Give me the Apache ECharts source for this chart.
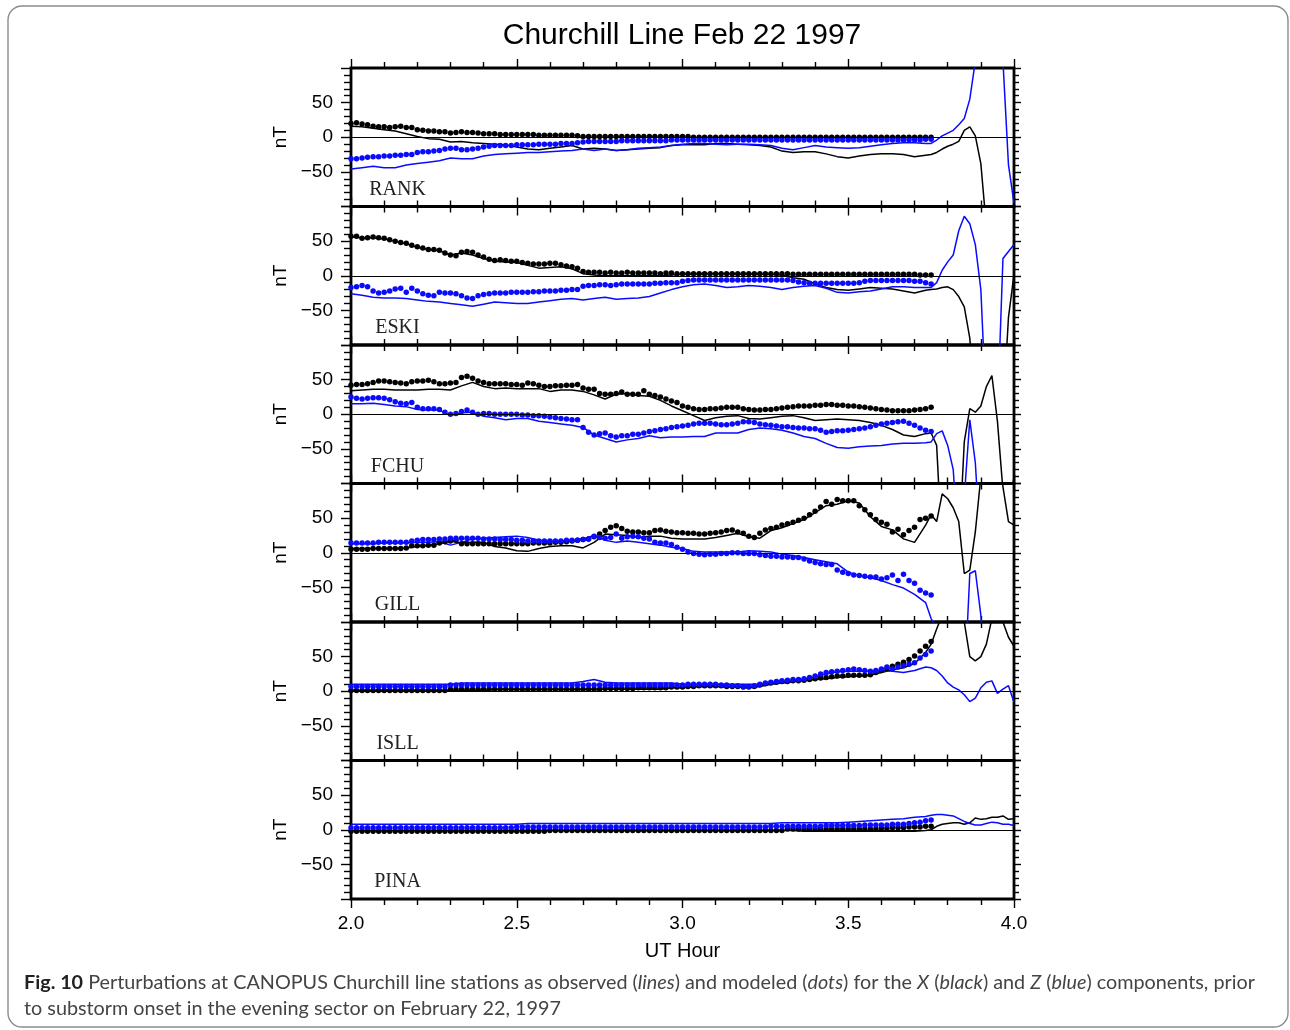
<!DOCTYPE html>
<html><head><meta charset="utf-8">
<script src="https://cdn.jsdelivr.net/npm/echarts@6/dist/echarts.min.js"></script>
<style>html,body{margin:0;padding:0;background:#fff}#chart{width:1290px;height:1030px}</style>
</head><body><div id="chart"></div>
<script>
// ---------------- data ----------------
const stations = ['RANK', 'ESKI', 'FCHU', 'GILL', 'ISLL', 'PINA'];
const xTickLabels = ['2.0', '2.5', '3.0', '3.5', '4.0'];
const yTickValues = [-50, 0, 50];
const yTickTexts = ['\u221250', '0', '50'];

// time grids (UT hours): model dots every minute 2.00-3.75; observed lines every 2 min to 3.733, then every minute to 4.00
const dotTimes = Array.from({length: 106}, (_, i) => 2 + i / 60);
const lineTimes = Array.from({length: 53}, (_, j) => 2 + (2 * j) / 60)
  .concat(Array.from({length: 16}, (_, k) => 2 + (105 + k) / 60));

// observed (lines)
const rankXObs = [16,15,13,11,9,5,1,-2,-3,-7,-6,-8,-9,-10,-11,-14,-17,-18,-16,-14,-12,-17,-16,-17,-19,-18,-17,-16,-15,-12,-11,-11,-11,-9,-9,-10,-11,-12,-14,-20,-22,-21,-21,-24,-28,-30,-27,-25,-24,-24,-25,-28,-26,
  -25,-22,-17,-13,-10,-6,10,15,2,-38,-130,-200,-200,-200,-200,-200];
const rankZObs = [-46,-44,-42,-44,-44,-40,-38,-36,-34,-30,-31,-31,-27,-25,-24,-23,-22,-22,-21,-20,-19,-17,-19,-17,-19,-18,-16,-15,-14,-12,-10,-9,-9,-10,-11,-10,-10,-11,-12,-16,-18,-15,-12,-14,-15,-16,-15,-13,-11,-9,-8,-8,-9,
  -9,-4,2,6,10,18,27,55,110,200,200,200,200,110,-40,-95];
const eskiXObs = [56,55,55,53,50,46,41,38,36,30,33,30,25,21,20,19,15,11,12,13,10,3,1,0,0,0,0,0,0,1,2,2,3,3,3,2,2,2,2,1,-3,-5,-12,-17,-20,-21,-19,-17,-18,-19,-22,-25,-21,
  -20,-19,-17,-16,-20,-30,-45,-90,-200,-200,-200,-200,-200,-200,-60,2];
const eskiZObs = [-26,-28,-31,-32,-32,-33,-35,-37,-38,-40,-42,-44,-41,-38,-39,-40,-40,-38,-36,-34,-33,-35,-33,-31,-34,-33,-32,-30,-25,-20,-16,-13,-12,-14,-17,-16,-14,-15,-17,-20,-17,-15,-14,-18,-24,-25,-23,-22,-19,-16,-16,-17,-17,
  -17,-10,8,20,30,65,86,75,45,-20,-200,-200,-200,25,35,45];
const fchuXObs = [34,35,36,36,35,35,35,36,36,35,41,46,40,37,38,37,37,37,33,35,35,33,28,22,29,30,27,26,20,12,5,-2,-9,-5,-3,-2,-6,-7,-5,-3,-2,-5,-9,-8,-7,-8,-9,-12,-16,-22,-30,-32,-28,
  -27,-45,-200,-200,-200,-200,-40,8,3,12,40,56,-10,-110,-150,-90];
const fchuZObs = [15,15,16,14,12,11,7,6,6,-2,2,3,-3,-5,-8,-6,-6,-10,-12,-14,-16,-19,-30,-35,-40,-37,-35,-31,-34,-33,-33,-32,-32,-27,-27,-27,-22,-20,-21,-23,-27,-32,-35,-42,-48,-49,-47,-46,-45,-43,-42,-42,-41,
  -40,-28,-24,-45,-80,-200,-120,-8,-70,-200,-200,-200,-200,-200,-200,-200];
const gillXObs = [6,6,6,6,6,7,9,11,13,17,14,15,15,9,7,3,2,6,9,10,10,7,15,27,26,25,22,24,24,21,20,20,20,22,25,28,23,21,32,36,42,48,58,68,70,75,72,52,38,33,20,15,40,
  55,45,85,78,65,45,-30,-25,30,110,200,200,200,95,45,40];
const gillZObs = [13,13,13,14,14,14,15,15,16,11,15,20,21,22,23,24,22,18,17,17,17,20,25,18,15,17,15,13,11,8,6,2,1,1,1,1,3,2,1,-2,-4,-7,-10,-13,-16,-28,-33,-36,-40,-46,-51,-60,-72,
  -95,-110,-200,-200,-200,-200,-200,-30,-26,-90,-200,-200,-200,-200,-200,-200];
const isllXObs = [1,1,1,1,1,1,1,1,1,1,1,1,1,3,3,3,3,3,3,3,3,3,3,3,3,3,3,3,3,5,5,6,7,7,6,6,5,7,10,12,14,15,17,18,20,21,22,23,27,31,34,40,56,
  68,90,110,200,200,200,100,50,44,50,68,105,200,100,78,65];
const isllZObs = [10,10,10,10,10,10,10,10,10,10,12,12,12,12,12,12,12,12,12,12,12,14,17,13,12,12,12,12,12,12,10,10,10,10,10,10,10,10,11,12,14,17,21,25,28,29,29,29,30,29,27,30,35,
  34,30,22,12,6,2,-5,-15,-10,5,13,15,-3,3,8,-16];
const pinaXObs = [-1,-1,-1,-1,-1,-1,-1,-1,-1,-1,-1,-1,-1,-1,-1,-1,-1,-1,-1,-1,-1,-1,-1,-1,-1,-1,-1,-1,-1,-1,-1,-1,-1,-1,-1,-1,-1,-1,-1,-1,-1,-2,-2,-2,-2,-2,-2,-2,-2,-2,-2,-2,-1,
  0,5,8,9,10,10,8,10,17,15,16,18,18,20,15,16];
const pinaZObs = [8,8,8,8,8,8,8,8,8,8,8,8,8,8,8,8,9,9,9,9,9,9,9,9,9,9,9,9,9,9,9,9,9,9,9,9,9,9,9,10,10,10,10,10,10,11,12,13,14,15,16,18,19,
  21,22,22,21,20,16,12,9,7,7,9,11,10,8,8,6];

// modeled (dots)
const rankXMod = [20,21,19,18,16,15,15,14,15,16, 14,14,11,10,9,9,8,8,6,7, 8,7,7,6,5,5,5,4,4,4, 4,4,4,4,3,3,3,3,3,3,
  3,2,1,1,1,1,1,1,1,1, 1,1,1,1,1,1,1,1,1,1, 1,1,0,0,0,0,0,0,0,0, 0,0,0,0,0,0,0,0,0,0, 0,0,0,0,0,0,0,0,0,0, 0,0,0,0,0,0,0,0,0,0, 0,0,0,0,0,0];
const rankZMod = [-31,-31,-30,-29,-28,-28,-27,-27,-26,-26, -25,-25,-22,-21,-21,-20,-19,-17,-16,-16, -18,-18,-17,-16,-14,-13,-12,-12,-12,-12,
  -11,-11,-11,-11,-10,-10,-10,-10,-9,-9, -9,-8,-7,-6,-6,-6,-6,-6,-6,-5, -5,-5,-5,-5,-5,-5,-5,-5,-4,-4, -4,-4,-4,-4,-4,-4,-4,-4,-4,-4,
  -4,-4,-4,-4,-4,-4,-4,-4,-4,-4, -4,-4,-4,-4,-4,-4,-4,-4,-4,-4, -4,-4,-4,-4,-4,-4,-4,-4,-4,-4, -4,-4,-4,-4,-3,-3];
const eskiXMod = [57,57,54,55,56,55,54,52,50,48, 47,44,42,40,38,38,37,33,30,29, 34,35,34,30,27,24,22,23,22,21, 21,19,18,17,17,17,18,18,16,14,
  13,11,6,5,5,5,4,5,4,4, 5,4,4,4,4,4,3,4,4,3, 3,3,3,3,3,3,3,3,3,3, 3,3,3,3,3,3,3,3,3,3, 2,2,2,2,2,2,2,2,2,2, 2,2,2,2,2,2,2,2,2,2, 2,2,2,1,1,1];
const eskiZMod = [-17,-16,-14,-16,-22,-25,-24,-22,-19,-18, -24,-18,-22,-26,-28,-29,-24,-25,-25,-26, -29,-32,-33,-29,-27,-26,-25,-25,-25,-24,
  -24,-24,-24,-23,-23,-22,-22,-22,-21,-21, -20,-20,-15,-14,-14,-13,-13,-14,-13,-12, -12,-12,-12,-12,-12,-11,-11,-10,-10,-10,
  -8,-7,-6,-6,-6,-6,-6,-6,-6,-6, -6,-6,-6,-6,-6,-6,-6,-6,-6,-6, -7,-9,-10,-11,-11,-11,-11,-11,-11,-11, -11,-11,-10,-8,-7,-7,-7,-7,-7,-7, -7,-7,-8,-8,-10,-12];
const fchuXMod = [42,43,43,44,46,48,48,47,46,45, 44,47,48,48,49,47,44,44,45,46, 53,55,52,48,46,44,44,44,44,43, 43,42,45,44,42,40,40,41,41,42,
  42,43,38,36,36,30,29,29,30,32, 29,29,29,34,29,27,25,22,19,17, 12,10,8,7,7,8,8,9,10,10, 10,8,7,6,6,7,7,8,9,10, 11,12,12,12,13,13,14,14,13,13,
  12,12,11,10,9,8,7,6,5,5, 5,5,6,7,8,10];
const fchuZMod = [25,23,22,23,24,24,23,21,18,16, 15,17,10,8,8,8,7,3,0,1, 4,6,3,0,1,1,0,0,0,0, 0,-1,-1,-2,-2,-3,-4,-5,-6,-7,
  -8,-8,-19,-26,-30,-28,-27,-31,-33,-31, -31,-29,-29,-27,-25,-24,-22,-21,-19,-18, -17,-16,-14,-13,-13,-13,-14,-15,-15,-14,
  -13,-11,-11,-12,-14,-15,-16,-17,-18,-18, -19,-20,-20,-21,-21,-23,-26,-25,-24,-24, -23,-22,-21,-20,-18,-16,-14,-13,-12,-11, -10,-13,-16,-20,-23,-25];
const gillXMod = [5,5,5,5,6,6,6,6,6,6, 7,10,10,10,11,11,14,16,17,18, 13,13,13,13,13,13,13,13,13,13, 13,13,13,14,14,14,14,15,15,16,
  17,18,19,20,23,27,32,37,39,35, 31,30,30,29,29,32,33,31,30,29, 29,28,28,27,27,28,29,30,32,33, 30,28,24,22,28,33,35,37,40,42,
  44,47,50,55,60,66,74,70,77,75, 75,75,68,62,55,48,44,41,30,34, 26,32,37,48,50,53];
const gillZMod = [14,14,14,14,14,15,15,15,15,15, 15,17,18,19,19,19,20,20,21,21, 21,21,21,21,20,20,20,19,19,19, 18,18,17,17,17,17,17,17,17,18,
  18,18,19,20,24,22,21,22,27,21, 23,24,23,21,20,15,14,14,12,8, 5,1,-1,-2,-3,-2,-2,-1,-1,0, 0,-1,-1,-1,-3,-4,-5,-5,-6,-6,
  -7,-7,-9,-12,-14,-16,-17,-17,-25,-28, -30,-32,-33,-34,-35,-35,-38,-36,-32,-40, -31,-40,-44,-54,-58,-61];
const isllXMod = [1,1,1,1,1,1,1,1,1,1, 1,1,1,1,1,1,1,1,3,3, 3,3,3,3,3,3,3,3,3,3, 3,3,3,3,3,3,3,3,3,3, 3,3,3,3,3,3,4,4,4,4,
  4,4,5,5,5,5,5,5,6,6, 6,7,7,8,8,8,8,8,7,7, 7,6,6,7,9,11,12,13,14,14, 15,15,16,17,18,19,20,21,22,22, 23,23,23,23,24,27,30,33,36,39, 42,46,51,58,65,72];
const isllZMod = [7,7,7,7,7,7,7,7,7,7, 7,7,7,7,7,7,7,7,9,9, 9,9,9,9,9,9,9,9,9,9, 9,9,9,9,9,9,9,9,9,9, 9,9,9,9,9,9,9,9,9,9,
  9,9,9,9,9,9,9,9,9,9, 9,10,10,10,10,10,10,9,9,8, 8,7,7,8,10,12,13,14,15,16, 17,17,18,20,22,25,27,28,29,30, 31,32,31,30,29,30,32,35,32,35, 37,39,41,48,53,58];
const pinaXMod = [-2,-2,-2,-2,-2,-2,-2,-2,-2,-2, -2,-2,-2,-2,-2,-2,-2,-2,-2,-2, -2,-2,-2,-2,-2,-2,-2,-2,-2,-2, -2,-2,-2,-2,-2,-2,-1,-1,-1,-1,
  -1,-1,-1,-1,-1,-1,-1,-1,-1,-1, -1,-1,-1,-1,-1,-1,-1,-1,-1,-1, -1,-1,-1,-1,-1,-1,-1,-1,-1,-1, -1,-1,-1,-1,-1,-1,-1,-1,-1,1,
  1,1,1,1,1,1,1,1,1,1, 1,1,1,1,1,1,2,2,3,3, 3,4,4,4,5,5];
const pinaZMod = [3,3,3,3,3,3,3,3,3,3, 3,3,3,3,3,3,3,3,3,3, 3,3,3,3,3,3,3,3,3,3, 4,4,4,4,4,4,4,4,4,4, 4,4,4,4,4,4,4,4,4,4,
  4,4,4,4,4,4,4,4,4,4, 4,4,4,4,4,4,4,4,4,4, 4,4,4,4,4,4,5,5,5,5, 5,5,5,5,5,5,6,6,6,6, 6,6,6,7,7,7,7,7,8,8, 8,9,10,11,13,14];

const obsX = [rankXObs, eskiXObs, fchuXObs, gillXObs, isllXObs, pinaXObs];
const obsZ = [rankZObs, eskiZObs, fchuZObs, gillZObs, isllZObs, pinaZObs];
const modX = [rankXMod, eskiXMod, fchuXMod, gillXMod, isllXMod, pinaXMod];
const modZ = [rankZMod, eskiZMod, fchuZMod, gillZMod, isllZMod, pinaZMod];

// ---------------- layout ----------------
const PLOT_LEFT = 351, PLOT_W = 663, PLOT_TOP = 68, PANEL_H = 138.5;
const BLUE = '#0a0aff';
const SANS = 'Liberation Sans';
const tickStyle = {color: '#000', width: 1.4};

const grid = [], xAxis = [], yAxis = [], series = [], graphic = [];

stations.forEach((name, k) => {
  const top = PLOT_TOP + k * PANEL_H;
  grid.push({left: PLOT_LEFT, top: top, width: PLOT_W, height: PANEL_H,
    show: true, borderColor: '#000', borderWidth: 2.8, backgroundColor: 'transparent'});
  const xBase = {
    type: 'value', gridIndex: k, min: 2, max: 4, interval: 0.5,
    axisLine: {show: false, onZero: false},
    axisTick: {show: true, inside: false, length: 9, lineStyle: tickStyle},
    minorTick: {show: true, splitNumber: 5, length: 6, lineStyle: tickStyle},
    splitLine: {show: false}, minorSplitLine: {show: false}
  };
  xAxis.push(Object.assign({}, xBase, {position: 'bottom',
    axisLabel: {show: k === stations.length - 1, margin: 15, fontSize: 19, color: '#000', fontFamily: SANS,
      formatter: (v, idx) => xTickLabels[idx] !== undefined ? xTickLabels[idx] : ''}}));
  xAxis.push(Object.assign({}, xBase, {position: 'top', axisLabel: {show: false}}));
  const yBase = {
    type: 'value', gridIndex: k, min: -100, max: 100, interval: 50,
    axisLine: {show: false, onZero: false},
    splitLine: {show: false}, minorSplitLine: {show: false}
  };
  yAxis.push(Object.assign({}, yBase, {position: 'left',
    axisTick: {show: true, inside: false, length: 10, lineStyle: tickStyle},
    minorTick: {show: true, splitNumber: 5, length: 7, lineStyle: tickStyle},
    axisLabel: {show: true, margin: 18, fontSize: 19, color: '#000', fontFamily: SANS,
      formatter: v => { const p = yTickValues.indexOf(v); return p >= 0 ? yTickTexts[p] : ''; }}}));
  yAxis.push(Object.assign({}, yBase, {position: 'right',
    axisTick: {show: true, inside: false, length: 7, lineStyle: tickStyle},
    minorTick: {show: true, splitNumber: 5, length: 5, lineStyle: tickStyle},
    axisLabel: {show: false}}));

  const xi = 2 * k, yi = 2 * k;
  series.push({
    name: name + ' X obs', type: 'line', xAxisIndex: xi, yAxisIndex: yi, clip: true,
    data: lineTimes.map((t, i) => [t, obsX[k][i]]), showSymbol: false, symbol: 'none',
    lineStyle: {color: '#000', width: 1.5}, z: 3,
    markLine: {silent: true, symbol: ['none', 'none'], label: {show: false}, animation: false,
      lineStyle: {color: '#000', width: 1.2, type: 'solid'}, data: [{yAxis: 0}]}
  });
  series.push({
    name: name + ' Z obs', type: 'line', xAxisIndex: xi, yAxisIndex: yi, clip: true,
    data: lineTimes.map((t, i) => [t, obsZ[k][i]]), showSymbol: false, symbol: 'none',
    lineStyle: {color: BLUE, width: 1.5}, z: 3
  });
  series.push({
    name: name + ' X model', type: 'scatter', xAxisIndex: xi, yAxisIndex: yi, clip: true,
    data: dotTimes.map((t, i) => [t, modX[k][i]]), symbol: 'circle', symbolSize: 5.5,
    itemStyle: {color: '#000', opacity: 1}, z: 4
  });
  series.push({
    name: name + ' Z model', type: 'scatter', xAxisIndex: xi, yAxisIndex: yi, clip: true,
    data: dotTimes.map((t, i) => [t, modZ[k][i]]), symbol: 'circle', symbolSize: 5.5,
    itemStyle: {color: BLUE, opacity: 1}, z: 4
  });

  graphic.push({type: 'text', x: 281, y: top + PANEL_H / 2, rotation: Math.PI / 2,
    style: {text: 'nT', fill: '#000', font: '19px "' + SANS + '"', align: 'center', verticalAlign: 'middle'}});
  graphic.push({type: 'text', x: 397.5, y: top + PANEL_H - 17,
    style: {text: name, fill: '#222', font: '20px "Liberation Serif"', align: 'center', verticalAlign: 'middle'}});
});

graphic.push({type: 'rect', shape: {x: 8, y: 6, width: 1280, height: 1021, r: 14},
  style: {fill: 'none', stroke: '#8c8c8c', lineWidth: 1.4}, z: -10});
graphic.push({type: 'text', x: 682, y: 36,
  style: {text: 'Churchill Line Feb 22 1997', fill: '#000', font: '30px "' + SANS + '"', align: 'center', verticalAlign: 'middle'}});
graphic.push({type: 'text', x: PLOT_LEFT + PLOT_W / 2, y: 951,
  style: {text: 'UT Hour', fill: '#000', font: '20px "' + SANS + '"', align: 'center', verticalAlign: 'middle'}});
const CAP = 19.8;
const capRich = {b: {fontWeight: 'bold', fill: '#222', fontFamily: 'Lato', fontSize: CAP},
  i: {fontStyle: 'italic', fill: '#444', fontFamily: 'Lato', fontSize: CAP}};
graphic.push({type: 'text', x: 24, y: 983,
  style: {text: '{b|Fig. 10} Perturbations at CANOPUS Churchill line stations as observed ({i|lines}) and modeled ({i|dots}) for the {i|X} ({i|black}) and {i|Z} ({i|blue}) components, prior',
    rich: capRich, fill: '#444', font: CAP + 'px Lato', align: 'left', verticalAlign: 'middle'}});
graphic.push({type: 'text', x: 24, y: 1009,
  style: {text: 'to substorm onset in the evening sector on February 22, 1997',
    fill: '#444', font: CAP + 'px Lato', align: 'left', verticalAlign: 'middle'}});

const chart = echarts.init(document.getElementById('chart'), null, {renderer: 'canvas'});
chart.setOption({
  backgroundColor: '#fff',
  animation: false,
  grid: grid, xAxis: xAxis, yAxis: yAxis, series: series, graphic: graphic
});
</script></body></html>
